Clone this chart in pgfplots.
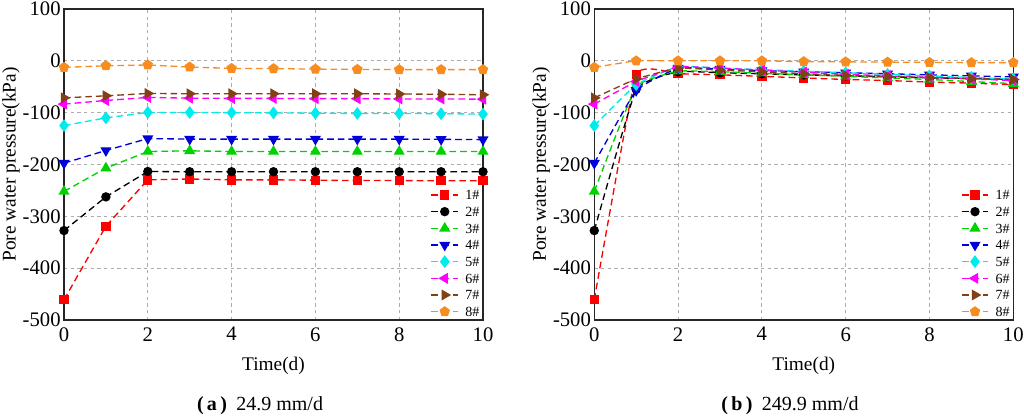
\documentclass[border=0pt]{standalone}
\usepackage{fontspec}
\setmainfont{Liberation Serif}
\usepackage{pgfplots}
\usepackage{pgfplotstable}
\pgfplotsset{compat=1.18}
\usetikzlibrary{plotmarks}

\definecolor{cred}{RGB}{255,0,0}
\definecolor{cblack}{RGB}{0,0,0}
\definecolor{cgreen}{RGB}{0,210,0}
\definecolor{cblue}{RGB}{0,0,215}
\definecolor{ccyan}{RGB}{0,235,235}
\definecolor{cmag}{RGB}{255,0,255}
\definecolor{cbrown}{RGB}{130,65,20}
\definecolor{corange}{RGB}{248,140,30}

\pgfplotstableread{
t s1 s2 s3 s4 s5 s6 s7 s8
0 -461 -327.5 -252 -197.5 -125 -83.5 -71.5 -12.7
1 -319 -262.5 -207 -173 -110 -76.5 -67.5 -9.5
2 -229.6 -213.5 -175 -150 -99.6 -70.6 -63 -8
3 -228 -214 -173.6 -151 -99.6 -72 -63.5 -12
4 -229.6 -214 -175 -151 -100 -72.5 -63.5 -14.6
5 -229.6 -214 -175 -151 -100.5 -72.5 -63.5 -15
6 -230.3 -214 -175 -151 -101 -73 -63.5 -16
7 -231 -214 -175 -151 -101.5 -73 -63.5 -16.5
8 -231 -214 -175 -151 -101.5 -73.5 -64 -17
9 -231.5 -214 -175 -151.5 -102 -73.5 -64.5 -17
10 -231.5 -214 -175 -152 -102.8 -74 -65.5 -17
}\dataA

\pgfplotstableread{
t s1 s2 s3 s4 s5 s6 s7 s8
0 -461 -327.5 -252 -197.5 -125 -83.5 -71.5 -12.7
1 -27 -55 -50 -57 -46 -40 -35 0
2 -25 -21 -20 -14 -11 -12 -14 0
3 -27 -23 -21 -16 -14 -14 -18 0
4 -30 -25 -24 -19 -17 -18 -21 0
5 -33 -27 -27 -21 -20 -22 -25 -1.5
6 -36 -29 -30 -23 -23 -26 -28 -2
7 -38 -31 -33 -25 -26 -29 -30 -2.5
8 -41 -33 -36 -27 -29 -32 -32 -3
9 -43 -34 -40 -29 -32 -35 -34 -3.5
10 -46 -36 -44 -31 -35 -38 -36 -3.5
}\dataB

\pgfplotsset{
  pp/.style={
    scale only axis, width=314.25pt, height=233.25pt,
    xmin=0, xmax=10, ymin=-500, ymax=100,
    xtick={0,2,...,10}, ytick={-500,-400,...,100},
    grid=major,
    major grid style={draw=gray!65, dash pattern=on 2.5pt off 2.5pt, line width=0.6pt},
    axis line style={line width=1pt, draw=black!85},
    major tick length=0pt,
    /pgf/number format/assume math mode=true,
    every tick label/.append style={font=\fontsize{15.5}{17}\selectfont},
    xticklabel style={yshift=-2pt},
    yticklabel style={xshift=1pt},
    every axis label/.append style={font=\fontsize{14.5}{16}\selectfont},
    xlabel={Time(d)}, ylabel={Pore water pressure(kPa)},
    xlabel style={at={(axis description cs:0.5,-0.1479)}, anchor=center},
    ylabel style={at={(axis description cs:-0.1265,0.5)}, anchor=center},
    legend cell align=left,
    legend style={draw=none, fill=white, inner sep=0pt, outer sep=0pt,
      at={(axis description cs:1,0)}, anchor=south east, xshift=-1.2pt, yshift=1pt,
      font=\fontsize{10.5}{12}\selectfont, row sep=2pt,
      nodes={inner ysep=1pt, inner xsep=1.5pt, text height=8pt, text depth=0.5pt},
      /tikz/every odd column/.append style={column sep=3.5pt}},
    legend image code/.code={\draw[mark repeat=2,mark phase=2] plot coordinates {(0pt,0pt) (10pt,0pt) (20pt,0pt)};},
    every axis plot/.append style={line width=1pt, dash pattern=on 5pt off 3pt, mark options={solid}},
    s1/.style={color=cred, mark=square*, mark size=3pt},
    s2/.style={color=cblack, mark=*, mark size=3pt},
    s3/.style={color=cgreen, mark=triangle*, mark size=3.8pt},
    s4/.style={color=cblue, mark=triangle*, mark size=3.8pt, mark options={solid, rotate=180}},
    s5/.style={color=ccyan, mark=diamond*, mark size=4pt},
    s6/.style={color=cmag, mark=triangle*, mark size=3.8pt, mark options={solid, rotate=90}},
    s7/.style={color=cbrown, mark=triangle*, mark size=3.8pt, mark options={solid, rotate=-90}},
    s8/.style={color=corange, mark=pentagon*, mark size=3.5pt},
    sm/.style={smooth, tension=0.2},
  }
}

\begin{document}
\begin{tikzpicture}
\path[use as bounding box] (0,0) rectangle (768pt,312pt);

\begin{axis}[pp, at={(48pt,72pt)}, anchor=south west]
\addplot[s1] table[x=t,y=s1] {\dataA}; \addlegendentry{1\#}
\addplot[s2] table[x=t,y=s2] {\dataA}; \addlegendentry{2\#}
\addplot[s3] table[x=t,y=s3] {\dataA}; \addlegendentry{3\#}
\addplot[s4] table[x=t,y=s4] {\dataA}; \addlegendentry{4\#}
\addplot[s5] table[x=t,y=s5] {\dataA}; \addlegendentry{5\#}
\addplot[s6] table[x=t,y=s6] {\dataA}; \addlegendentry{6\#}
\addplot[s7] table[x=t,y=s7] {\dataA}; \addlegendentry{7\#}
\addplot[s8] table[x=t,y=s8] {\dataA}; \addlegendentry{8\#}
\end{axis}

\begin{axis}[pp, at={(445.7pt,72pt)}, anchor=south west]
\addplot[s1, sm] table[x=t,y=s1] {\dataB}; \addlegendentry{1\#}
\addplot[s2, sm] table[x=t,y=s2] {\dataB}; \addlegendentry{2\#}
\addplot[s3, sm] table[x=t,y=s3] {\dataB}; \addlegendentry{3\#}
\addplot[s4, sm] table[x=t,y=s4] {\dataB}; \addlegendentry{4\#}
\addplot[s5, sm] table[x=t,y=s5] {\dataB}; \addlegendentry{5\#}
\addplot[s6, sm] table[x=t,y=s6] {\dataB}; \addlegendentry{6\#}
\addplot[s7, sm] table[x=t,y=s7] {\dataB}; \addlegendentry{7\#}
\addplot[s8, sm] table[x=t,y=s8] {\dataB}; \addlegendentry{8\#}
\end{axis}

\node[font=\fontsize{15}{17}\selectfont, anchor=center] at (195pt,7.5pt) {\textbf{(\,a\,)}\hspace{7pt}24.9 mm/d};
\node[font=\fontsize{15}{17}\selectfont, anchor=center] at (592.5pt,7.5pt) {\textbf{(\,b\,)}\hspace{7pt}249.9 mm/d};
\end{tikzpicture}
\end{document}
